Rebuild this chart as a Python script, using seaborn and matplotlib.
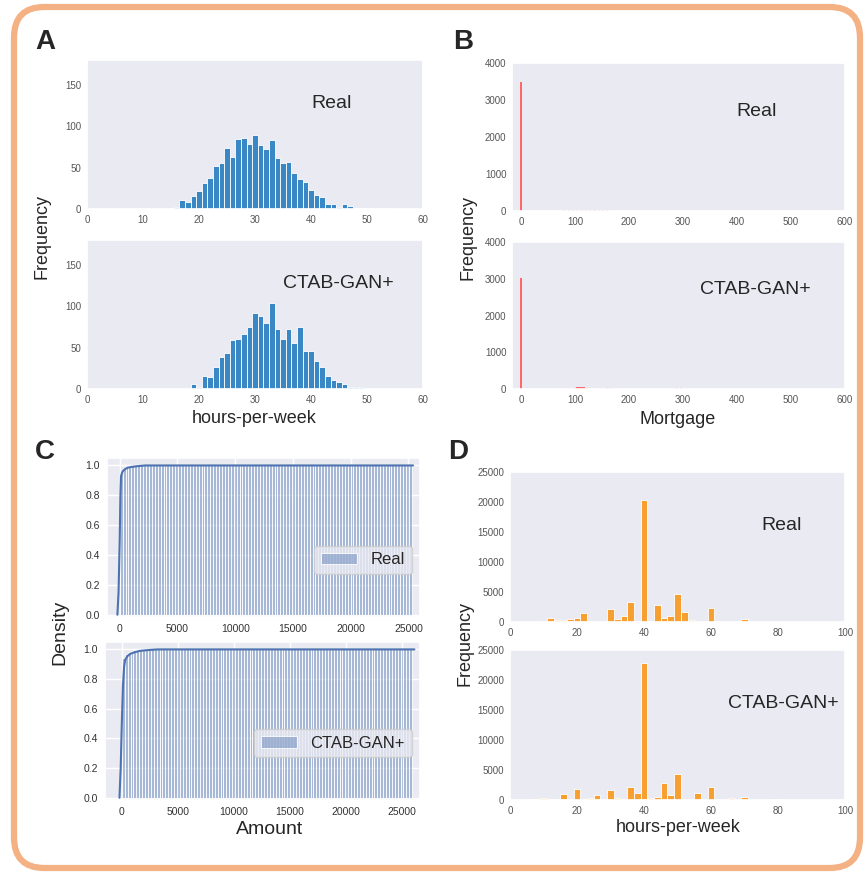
import numpy as np
import matplotlib
matplotlib.use("Agg")
import matplotlib.pyplot as plt
import seaborn as sns
from matplotlib.patches import FancyBboxPatch

# ---- data ----
# A: hours-per-week (integer bins)
hpw_real_x = list(range(16, 54))
hpw_real_n = [2, 11, 8, 16, 22, 31, 37, 52, 56, 74, 63, 84, 86, 78, 89, 77, 73, 83,
              62, 55, 57, 43, 36, 33, 23, 17, 15, 6, 6, 3, 6, 4, 1, 1, 1, 0, 1, 1]
hpw_gan_x = list(range(19, 50))
hpw_gan_n = [6, 3, 16, 15, 26, 39, 43, 59, 61, 67, 75, 92, 88, 80, 104, 73, 61, 73,
             56, 75, 46, 46, 34, 27, 16, 11, 8, 6, 3, 2, 2]

# B: Mortgage
mort_real_x = [0, 78, 86, 94, 102, 110, 118, 126, 134, 142, 150, 158, 166, 174, 182,
               194, 206, 218, 230, 242, 254]
mort_real_n = [3480, 25, 30, 28, 32, 30, 27, 25, 22, 20, 18, 15, 12, 10, 8,
               6, 5, 4, 3, 2, 2]
mort_gan_x = [0, 98, 102, 106, 110, 114, 118, 150, 158, 166, 174, 182, 190,
              270, 278, 286, 294, 302, 310, 318]
mort_gan_n = [3020, 30, 55, 65, 60, 45, 25, 12, 15, 14, 12, 10, 8,
              8, 12, 15, 14, 12, 9, 6]

# C: Amount, per-bin share of records (cumulative plot)
amt_real_x = [100, 400, 650, 900, 1200, 1500, 25200]
amt_real_w = [0.962, 0.022, 0.008, 0.004, 0.002, 0.002, 0.0]
amt_gan_x = [100, 400, 650, 900, 1200, 1500, 2000, 25800]
amt_gan_w = [0.94, 0.03, 0.012, 0.007, 0.005, 0.003, 0.003, 0.0]
# cumulative density curve
cdf_real_x = [-200, -100, 0, 60, 120, 250, 450, 700, 1000, 1500, 2200, 25400]
cdf_real_y = [0.0, 0.15, 0.5, 0.8, 0.93, 0.96, 0.975, 0.985, 0.99, 0.995, 1.0, 1.0]
cdf_gan_x = [-210, -100, 0, 100, 200, 300, 500, 750, 1100, 1600, 2400, 3200, 26100]
cdf_gan_y = [0.0, 0.2, 0.5, 0.75, 0.88, 0.93, 0.955, 0.97, 0.98, 0.99, 0.996, 1.0, 1.0]

# D: hours-per-week (adult)
hw_real_x = [6, 8, 10, 12, 14, 16, 18, 20, 22, 24, 30, 32, 34, 36, 38, 40, 42, 44,
             46, 48, 50, 52, 54, 56, 60, 62, 70, 94]
hw_real_n = [50, 100, 200, 700, 300, 300, 550, 700, 1500, 250, 2250, 450, 1000, 3400,
             150, 20300, 150, 2850, 700, 1000, 4750, 1650, 400, 150, 2300, 100, 450, 50]
hw_gan_x = [6, 8, 10, 12, 16, 20, 24, 26, 30, 32, 36, 38, 40, 42, 44, 46, 48, 50,
            52, 56, 60, 66, 70, 80]
hw_gan_n = [50, 200, 400, 250, 950, 1850, 350, 900, 1650, 400, 2250, 1100, 22850,
            350, 500, 2800, 850, 4300, 200, 1100, 2150, 400, 450, 150]

# ---- figure ----
sns.set_theme(style="darkgrid")
plt.rcParams['font.family'] = ['Liberation Sans', 'DejaVu Sans']

W, H = 868, 875
fig = plt.figure(figsize=(W / 100, H / 100), dpi=100)
fig.patch.set_facecolor("white")


def box(x0, y0, x1, y1):
    return [x0 / W, 1 - y1 / H, (x1 - x0) / W, (y1 - y0) / H]


def ftext(x, y, s, **kw):
    fig.text(x / W, 1 - y / H, s, ha="center", va="center", **kw)


BLUE = "#3a87c5"
RED = "#ff6868"
ORANGE = "#f7a031"
CBLUE = "#4C72B0"


def plain(ax):
    ax.grid(False)
    ax.set_xlabel("")
    ax.set_ylabel("")
    ax.tick_params(labelsize=7, colors="#555555", length=0, pad=4)


# A
axA1 = fig.add_axes(box(87, 60, 423, 209))
sns.histplot(x=hpw_real_x, weights=hpw_real_n, binwidth=1, binrange=(15.5, 53.5),
             color=BLUE, alpha=1, edgecolor="white", linewidth=0.6, ax=axA1)
axA2 = fig.add_axes(box(87, 240, 423, 389))
sns.histplot(x=hpw_gan_x, weights=hpw_gan_n, binwidth=1, binrange=(18.5, 49.5),
             color=BLUE, alpha=1, edgecolor="white", linewidth=0.6, ax=axA2)
for ax in (axA1, axA2):
    plain(ax)
    ax.set_xlim(0, 60)
    ax.set_ylim(0, 180)
    ax.set_yticks([0, 50, 100, 150])

# B
axB1 = fig.add_axes(box(512, 63, 845, 211))
sns.histplot(x=mort_real_x, weights=mort_real_n, binwidth=4, binrange=(-2, 638),
             color=RED, alpha=1, linewidth=0, ax=axB1)
axB2 = fig.add_axes(box(512, 242, 845, 389))
sns.histplot(x=mort_gan_x, weights=mort_gan_n, binwidth=4, binrange=(-2, 638),
             color=RED, alpha=1, linewidth=0, ax=axB2)
for ax in (axB1, axB2):
    plain(ax)
    ax.set_xlim(-17, 600)
    ax.set_ylim(0, 4000)

# C
axC1 = fig.add_axes(box(107, 458, 420, 617))
sns.histplot(x=amt_real_x, weights=amt_real_w, bins=100, binrange=(0, 25300),
             cumulative=True, color=CBLUE, alpha=0.42, edgecolor="white",
             linewidth=0.6, label="Real", ax=axC1)
sns.lineplot(x=cdf_real_x, y=cdf_real_y, color=CBLUE, linewidth=1.5, ax=axC1)
axC1.set_xlim(-1100, 26000)

axC2 = fig.add_axes(box(105, 642, 420, 800))
sns.histplot(x=amt_gan_x, weights=amt_gan_w, bins=100, binrange=(0, 25900),
             cumulative=True, color=CBLUE, alpha=0.42, edgecolor="white",
             linewidth=0.6, label="CTAB-GAN+", ax=axC2)
sns.lineplot(x=cdf_gan_x, y=cdf_gan_y, color=CBLUE, linewidth=1.5, ax=axC2)
axC2.set_xlim(-1500, 26600)
for ax in (axC1, axC2):
    ax.set_xlabel("")
    ax.set_ylabel("")
    ax.set_ylim(-0.015, 1.05)
    ax.set_yticks([0, 0.2, 0.4, 0.6, 0.8, 1.0])
    ax.set_xticks([0, 5000, 10000, 15000, 20000, 25000])
    ax.tick_params(labelsize=7.5, colors="#333333", length=0, pad=5)
    ax.legend(loc="center right", bbox_to_anchor=(1.0, 0.36), fontsize=12,
              frameon=True, handlelength=2.2)

# D
axD1 = fig.add_axes(box(510, 472, 845, 622))
sns.histplot(x=hw_real_x, weights=hw_real_n, binwidth=2, binrange=(1, 99),
             color=ORANGE, alpha=1, edgecolor="white", linewidth=0.6, ax=axD1)
axD2 = fig.add_axes(box(510, 650, 845, 800))
sns.histplot(x=hw_gan_x, weights=hw_gan_n, binwidth=2, binrange=(1, 99),
             color=ORANGE, alpha=1, edgecolor="white", linewidth=0.6, ax=axD2)
for ax in (axD1, axD2):
    plain(ax)
    ax.set_xlim(0, 100)
    ax.set_ylim(0, 25000)
    ax.set_yticks([0, 5000, 10000, 15000, 20000, 25000])

# in-panel labels
ftext(332, 103, "Real", fontsize=14)
ftext(338, 283, "CTAB-GAN+", fontsize=14)
ftext(757, 112, "Real", fontsize=14)
ftext(755, 290, "CTAB-GAN+", fontsize=14)
ftext(782, 525, "Real", fontsize=14)
ftext(783, 703, "CTAB-GAN+", fontsize=14)

# axis labels
ftext(42, 236, "Frequency", fontsize=13, rotation=90)
ftext(468, 238, "Frequency", fontsize=13, rotation=90)
ftext(60, 632, "Density", fontsize=14, rotation=90)
ftext(465, 643, "Frequency", fontsize=13, rotation=90)
ftext(254, 418, "hours-per-week", fontsize=13)
ftext(678, 419, "Mortgage", fontsize=13)
ftext(270, 829, "Amount", fontsize=14)
ftext(678, 828, "hours-per-week", fontsize=13)

# panel letters
for letter, x, y in [("A", 45, 42), ("B", 463, 42), ("C", 45, 452), ("D", 458, 452)]:
    ftext(x, y, letter, fontsize=20, fontweight="bold")

# rounded orange frame
frame = FancyBboxPatch((14 / W, 7 / H), (860 - 14) / W, (868 - 7) / H,
                       boxstyle="round,pad=0,rounding_size=0.035",
                       transform=fig.transFigure, facecolor="none",
                       edgecolor="#f4b183", linewidth=4.5)
fig.add_artist(frame)

fig.savefig("out.png", dpi=100)
